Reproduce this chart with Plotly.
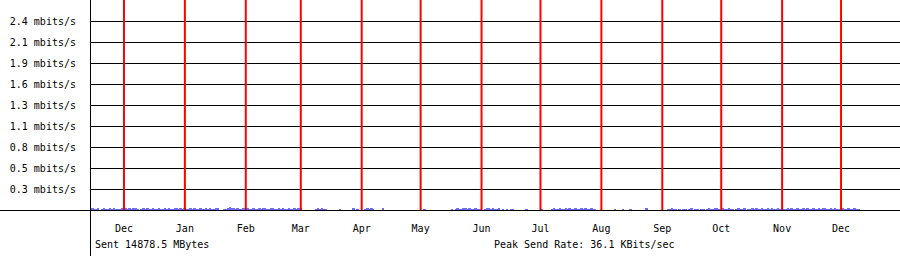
import pandas as pd
import numpy as np
import plotly.graph_objects as go

# ---- data (daily send rate, Kbit/s) ----
start_day = "2008-11-14"
nov08 = [12, 13, 11, 12, 13, 0, 12, 13, 12, 11, 13, 12, 13, 12, 11, 12, 13]
dec08 = [12, 13, 12, 13, 12, 24, 13, 12, 0, 12, 13, 12, 13, 12, 12, 13, 12, 11, 13, 12, 12, 13, 12, 13, 12, 12, 22, 13, 12, 13, 12]
jan09 = [13, 12, 12, 13, 12, 13, 12, 12, 13, 12, 12, 13, 12, 13, 12, 12, 13, 16, 0, 0, 9, 12, 13, 36.1, 14, 13, 12, 13, 12, 12, 13]
feb09 = [12, 13, 12, 12, 13, 12, 12, 13, 12, 20, 13, 12, 12, 13, 18, 12, 12, 13, 12, 13, 12, 12, 13, 12, 12, 13, 12, 13]
mar09 = [13, 0, 0, 0, 0, 0, 0, 0, 12, 13, 12, 13, 12, 12, 0, 0, 0, 0, 0, 0, 9, 0, 0, 0, 0, 0, 0, 22, 0, 9, 0]
apr09 = [0, 0, 12, 13, 12, 13, 12, 0, 0, 0, 0, 22, 0, 0, 0, 0, 0, 0, 0, 0, 0, 0, 0, 0, 0, 0, 0, 0, 0, 0]
may09 = [0, 0, 9, 0, 0, 0, 0, 0, 0, 0, 0, 0, 0, 0, 0, 0, 12, 0, 12, 13, 12, 12, 13, 24, 12, 13, 12, 12, 13, 12, 12]
jun09 = [0, 0, 12, 18, 13, 12, 13, 12, 12, 13, 0, 12, 0, 12, 0, 10, 12, 0, 0, 0, 0, 0, 0, 11, 0, 0, 0, 0, 0, 0]
jul09 = [0, 11, 0, 0, 0, 0, 12, 13, 12, 12, 13, 12, 12, 13, 12, 13, 12, 12, 13, 12, 12, 13, 12, 13, 12, 12, 13, 12, 12, 0, 0]
aug09 = [0, 0, 0, 0, 0, 0, 0, 11, 0, 0, 0, 10, 0, 0, 0, 11, 0, 0, 0, 0, 0, 0, 0, 13, 0, 0, 0, 0, 0, 0, 0]
sep09 = [0, 0, 0, 12, 12, 13, 12, 12, 0, 12, 0, 12, 12, 0, 12, 13, 0, 12, 12, 0, 12, 12, 0, 12, 13, 12, 12, 13, 20, 12]
oct09 = [12, 13, 12, 12, 13, 12, 12, 0, 12, 13, 12, 12, 13, 0, 12, 12, 13, 12, 13, 12, 12, 13, 12, 12, 13, 12, 13, 12, 12, 13, 12]
nov09 = [13, 12, 12, 13, 12, 13, 12, 12, 13, 12, 12, 13, 12, 13, 12, 12, 13, 12, 12, 13, 12, 13, 22, 12, 12, 13, 12, 13, 12, 12]
dec09 = [12, 13, 12, 12, 13, 12, 12, 13, 12, 12]

month_starts = ["2008-12-01", "2009-01-01", "2009-02-01", "2009-03-01", "2009-04-01",
                "2009-05-01", "2009-06-01", "2009-07-01", "2009-08-01", "2009-09-01",
                "2009-10-01", "2009-11-01", "2009-12-01"]
month_labels = ["Dec", "Jan", "Feb", "Mar", "Apr", "May", "Jun", "Jul", "Aug",
                "Sep", "Oct", "Nov", "Dec"]

ytick_vals = [0.26667, 0.53333, 0.8, 1.06667, 1.33333, 1.6, 1.86667, 2.13333, 2.4]
ytick_labels = ["0.3 mbits/s", "0.5 mbits/s", "0.8 mbits/s", "1.1 mbits/s", "1.3 mbits/s",
                "1.6 mbits/s", "1.9 mbits/s", "2.1 mbits/s", "2.4 mbits/s"]

x_range = ["2008-11-13 17:00", "2009-12-31 00:00"]
y_range = [-0.00635, 2.673]

sent_text = "Sent 14878.5 MBytes"
peak_text = "Peak Send Rate: 36.1 KBits/sec"

# ---- build ----
kbits = np.array(nov08 + dec08 + jan09 + feb09 + mar09 + apr09 + may09 + jun09 +
                 jul09 + aug09 + sep09 + oct09 + nov09 + dec09, dtype=float)
mbits = kbits / 1000.0
days = pd.date_range(start_day, periods=len(kbits), freq="D")

FONT = "DejaVu Sans Mono"
AXIS_HALF_PX = 0.00635  # bars start on top of the 1px zero axis line (rrd style)

fig = go.Figure()
fig.add_trace(go.Bar(x=days, y=mbits, base=AXIS_HALF_PX,
                     marker=dict(color="rgb(110,110,255)", line=dict(width=0)),
                     hoverinfo="skip"))

for d in month_starts:
    fig.add_shape(type="line", xref="x", yref="paper", x0=d, x1=d, y0=0.0024, y1=1,
                  line=dict(color="#ff0000", width=2), layer="above")

# axis lines extending beyond the plot area (pixel-aligned)
fig.add_shape(type="line", xref="paper", yref="paper", x0=-0.112, x1=1, y0=0.00237, y1=0.00237,
              line=dict(color="black", width=1), layer="above")
fig.add_shape(type="line", xref="paper", yref="paper", x0=0.000617, x1=0.000617, y0=-0.22, y1=1,
              line=dict(color="black", width=1), layer="above")

fig.add_annotation(text=sent_text, xref="paper", yref="paper", x=0.004, y=-0.157,
                   xanchor="left", yanchor="middle", showarrow=False,
                   font=dict(family=FONT, size=10, color="black"))
fig.add_annotation(text=peak_text, xref="paper", yref="paper", x=0.4965, y=-0.157,
                   xanchor="left", yanchor="middle", showarrow=False,
                   font=dict(family=FONT, size=10, color="black"))

fig.update_layout(
    width=900, height=256,
    margin=dict(l=90, r=0, t=0, b=45, pad=0),
    paper_bgcolor="white", plot_bgcolor="white",
    showlegend=False, bargap=0,
    font=dict(family=FONT, size=10, color="black"),
    xaxis=dict(range=x_range, type="date", showgrid=False, zeroline=False, showline=False,
               tickmode="array", tickvals=month_starts, ticktext=month_labels,
               ticks="", ticklabelstandoff=10, tickfont=dict(family=FONT, size=10)),
    yaxis=dict(range=y_range, showgrid=True, gridcolor="black", gridwidth=1,
               zeroline=False, showline=False, tickmode="array",
               tickvals=ytick_vals, ticktext=ytick_labels, ticks="",
               ticklabelstandoff=13, tickfont=dict(family=FONT, size=10)),
)

fig.write_html("out.html")
